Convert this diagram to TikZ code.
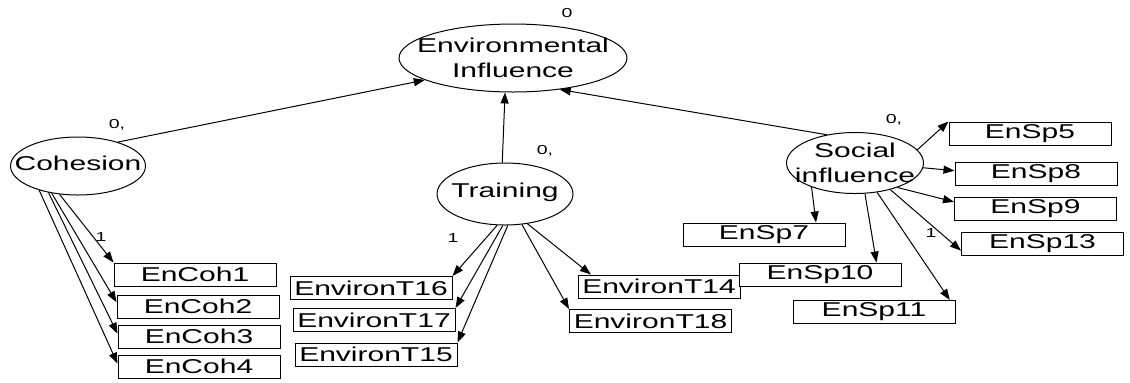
\documentclass[tikz,border=0pt]{standalone}
\usepackage{fontspec}
\setmainfont{Liberation Sans}[FakeStretch=1.5]
\usetikzlibrary{arrows.meta,shapes.geometric}

\begin{document}
\begin{tikzpicture}[x=.5pt,y=-.5pt,line width=.5pt,
  lat/.style={draw,ellipse,inner sep=0pt},
  lattxt/.style={align=center,inner sep=0pt,font=\fontsize{10}{12.5}\selectfont},
  obs/.style={draw,fill=white,minimum width=81pt,minimum height=11.5pt,inner sep=0pt,font=\fontsize{10}{12}\selectfont},
  est/.style={inner sep=0pt,font=\fontsize{6.5}{7}\selectfont},
  arr/.style={-{Triangle[length=5.5pt,width=4pt]}}]
 \useasboundingbox (0,0) rectangle (1130,382);
 \foreach \x/\y/\w/\h/\dy/\id/\txt in
  {513/58/114/34/0/env/{Environmental\\Influence},78/166/67.5/29/1.5/coh/Cohesion,
   505/194/68/31/.8/train/Training,855/163/68.5/30.5/0/soc/{Social\\influence}}{
  \node[lat,minimum width=\w pt,minimum height=\h pt] (\id) at (\x,\y) {};
  \node[lattxt] (\id-t) at ([yshift=\dy pt]\id) {\txt};}
 \foreach \x/\y/\id/\txt in
  {195/274.5/ec1/EnCoh1,198/306.5/ec2/EnCoh2,199/336.5/ec3/EnCoh3,199/366.5/ec4/EnCoh4,
   371/288/et16/EnvironT16,374/320/et17/EnvironT17,376/354.5/et15/EnvironT15,
   659/286.5/et14/EnvironT14,650.5/321/et18/EnvironT18,
   764/234.5/sp7/EnSp7,820/274.5/sp10/EnSp10,874/312/sp11/EnSp11,
   1030/133.5/sp5/EnSp5,1036/173.5/sp8/EnSp8,1035.5/209/sp9/EnSp9,1042.5/243.5/sp13/EnSp13}
  \node[obs] (\id) at (\x,\y) {\txt};
 % structural paths
 \foreach \a/\b in {coh.31/env.194,train.95/env.257,soc.135/env.326}
  \draw[arr] (\a) -- (\b);
 % loadings
 \foreach \a/\b in
  {coh.237/ec1.north west,coh.226/ec2.177,coh.222/ec3.178,coh.212/ec4.178,
   train.256/et16.north east,train.266/et17.north east,train.275/et15.north east,
   train.307/et14.170,train.299/et18.north west,
   soc.209/sp7.13,soc.288/sp10.12,soc.307/sp11.9,
   soc.12/sp5.north west,soc.356/sp8.178,soc.330/sp9.175,soc.323/sp13.185}
  \draw[arr] (\a) -- (\b);
 \foreach \x/\y/\id/\txt in
  {567/13/v-env/0,117/125/v-coh/{0,},545/151/v-train/{0,},894/120/v-soc/{0,},
   101/237/f-coh/1,453/238/f-train/1,931/233/f-soc/1}
  \node[est] (\id) at (\x,\y) {\txt};
\end{tikzpicture}
\end{document}
